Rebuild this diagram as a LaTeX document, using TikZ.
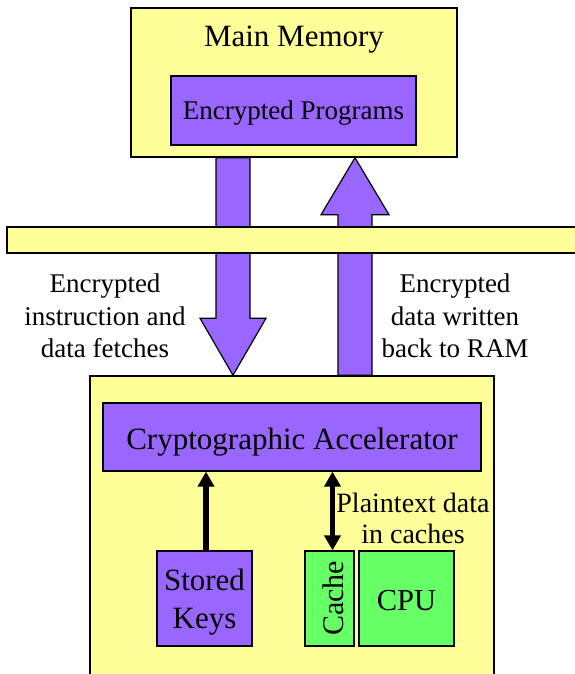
\documentclass[tikz,border=0pt]{standalone}
\usepackage{fontspec}
\setmainfont{Liberation Serif}
\usetikzlibrary{arrows.meta}
\definecolor{memyellow}{HTML}{FFFF99}
\definecolor{unitpurple}{HTML}{9966FF}
\definecolor{cpugreen}{HTML}{66FF66}
\begin{document}
\begin{tikzpicture}[x=1pt,y=-1pt,
  box/.style={draw=black, line width=1.2pt, inner sep=0pt},
  yellowbox/.style={box, fill=memyellow, line width=1.5pt},
  purplebox/.style={box, fill=unitpurple},
  greenbox/.style={box, fill=cpugreen},
  bigtext/.style={font=\fontsize{31}{38}\selectfont},
  labeltext/.style={font=\fontsize{27}{32.6}\selectfont, align=center},
  fat/.style={draw=black, line width=1.2pt, fill=unitpurple, line join=miter},
  link/.style={draw=black, line width=5.5pt},
  tip/.tip={Triangle[width=16pt,length=15pt]}
]
\useasboundingbox (0,0) rectangle (575,674);

% main memory with the encrypted program image
\node[yellowbox, minimum width=326pt, minimum height=149pt] (mem) at (294,82.5) {};
\node[bigtext, anchor=base] (memtitle) at (294,47) {Main Memory};
\node[purplebox, minimum width=245pt, minimum height=69pt,
      font=\fontsize{27}{32}\selectfont, text height=19pt, text depth=0pt]
     (progs) at (293.5,110.5) {Encrypted Programs};

% processor chip
\node[yellowbox, minimum width=404pt, minimum height=330pt] (soc) at (292,541) {};
\node[purplebox, bigtext, minimum width=378pt, minimum height=68pt,
      text height=24pt, text depth=0pt] (accel) at (292,437) {Cryptographic Accelerator};
\node[purplebox, bigtext, align=center, minimum width=95pt, minimum height=95pt,
      text depth=0pt] (keys) at (204.5,598.5) {Stored\\Keys};
\node[greenbox, font=\fontsize{30}{36}\selectfont, rotate=90,
      minimum width=95pt, minimum height=49pt, text height=27pt, text depth=0pt]
     (cache) at (329.5,598.5) {Cache};
\node[greenbox, font=\fontsize{30.5}{36}\selectfont, minimum width=95pt, minimum height=95pt,
      text height=23pt, text depth=0pt] (cpu) at (406.5,598.5) {CPU};

% wide transfer arrows between memory and chip
\coordinate (dn) at (233,0);
\coordinate (up) at (355,0);
\draw[fat] ([xshift=-17pt]dn |- mem.south) -- ([xshift=17pt]dn |- mem.south)
  -- ([shift={(17,-57)}]dn |- soc.north) -- ([shift={(33,-57)}]dn |- soc.north)
  -- (dn |- soc.north)
  -- ([shift={(-33,-57)}]dn |- soc.north) -- ([shift={(-17,-57)}]dn |- soc.north) -- cycle;
\draw[fat] ([xshift=-17pt]up |- soc.north) -- ([xshift=17pt]up |- soc.north)
  -- ([shift={(17,57)}]up |- mem.south) -- ([shift={(34,57)}]up |- mem.south)
  -- (up |- mem.south)
  -- ([shift={(-34,57)}]up |- mem.south) -- ([shift={(-17,57)}]up |- mem.south) -- cycle;

% bus
\node[yellowbox, minimum width=583pt, minimum height=26pt] (bus) at (298.5,240) {};

% on-chip links
\draw[link, -tip] ([xshift=1.5pt]keys.north) -- ([xshift=1.5pt]keys.north |- accel.south);
\draw[link, tip-tip] ([xshift=3pt]cache.east) -- ([xshift=3pt]cache.east |- accel.south);

% annotations (base anchor sits on the last line)
\node[labeltext, anchor=base] (fetchlbl) at (105,357.8) {Encrypted\\instruction and\\data fetches};
\node[labeltext, anchor=base] (writelbl) at (455,357.8) {Encrypted\\data written\\back to RAM};
\node[font=\fontsize{28}{31}\selectfont, align=center, anchor=base] (plainlbl) at (413,543)
     {Plaintext data\\in caches};
\end{tikzpicture}
\end{document}
